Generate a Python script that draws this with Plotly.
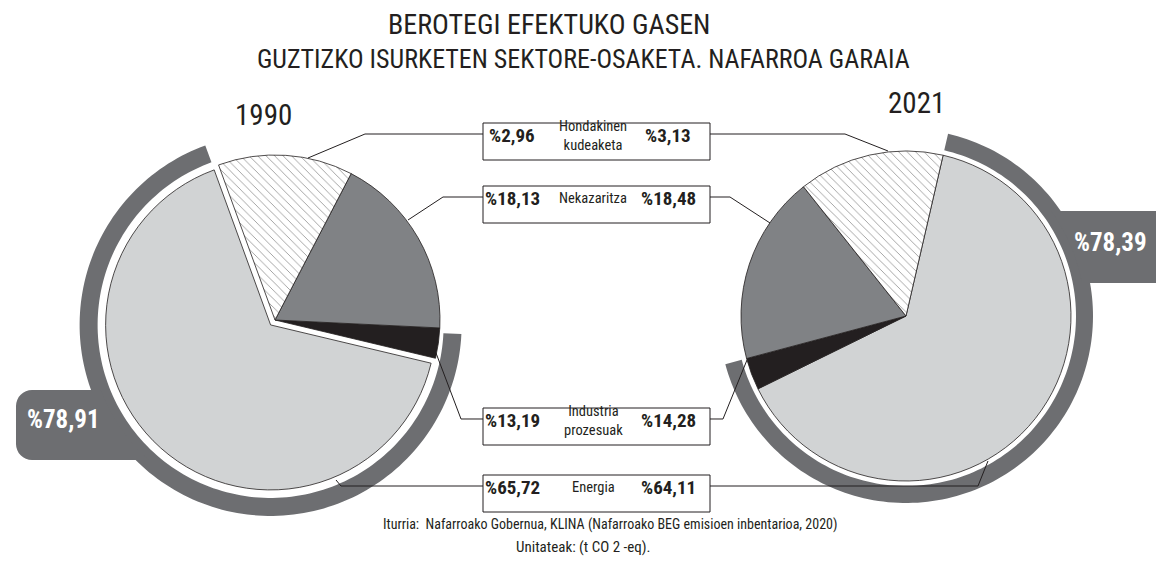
import math
import plotly.graph_objects as go

W, H = 1164, 561

# ---------------- data ----------------
sectors = ["Energia", "Hondakinen kudeaketa", "Nekazaritza", "Industria prozesuak"]
values_1990 = [65.72, 2.96, 18.13, 13.19]
values_2021 = [64.11, 3.13, 18.48, 14.28]
years = ["1990", "2021"]
arc_totals = [78.91, 78.39]
box_order = ["Hondakinen kudeaketa", "Nekazaritza", "Industria prozesuak", "Energia"]
box_texts = ["Hondakinen<br>kudeaketa", "Nekazaritza", "Industria<br>prozesuak", "Energia"]
title_lines = ["BEROTEGI EFEKTUKO GASEN",
               "GUZTIZKO ISURKETEN SEKTORE-OSAKETA. NAFARROA GARAIA"]
source_lines = ["Iturria:  Nafarroako Gobernua, KLINA (Nafarroako BEG emisioen inbentarioa, 2020)",
                "Unitateak: (t CO 2 -eq)."]

# ---------------- style ----------------
colors = ["#d1d3d4", "#231f20", "#808285", "#ffffff"]
patterns = ["", "", "", "\\"]
ARC = "#6d6e71"
INK = "#231f20"
FONT = "Liberation Sans Narrow, Roboto Condensed, DejaVu Sans Condensed, Roboto, sans-serif"


def fmt(v):
    return "%" + f"{v:.2f}".replace(".", ",")


def P(x, y):
    return x / W, 1 - y / H


def path(pts, close=True):
    s = "M " + " L ".join(f"{P(x, y)[0]:.5f},{P(x, y)[1]:.5f}" for x, y in pts)
    return s + (" Z" if close else "")


def pt(cx, cy, r, a):
    t = math.radians(a)
    return cx + r * math.sin(t), cy - r * math.cos(t)


def ring(cx, cy, r0, r1, a0, a1, n=160):
    outer = [pt(cx, cy, r1, a0 + (a1 - a0) * i / n) for i in range(n + 1)]
    inner = [pt(cx, cy, r0, a1 - (a1 - a0) * i / n) for i in range(n + 1)]
    return path(outer + inner)


def domain(cx, cy, r, pull):
    h = r * (1 + pull)
    return dict(x=[(cx - h) / W, (cx + h) / W], y=[1 - (cy + h) / H, 1 - (cy - h) / H])


# geometry
R = 165
L_C = (267, 312)
R_C = (898, 308)
PULL = 0.04
B_L = -20          # boundary Energia / Industria, left pie (deg clockwise from 12 o'clock)
ROT_R = 13

eL = values_1990[0] * 3.6
hL = values_1990[1] * 3.6
ROT_L = B_L + 360 - eL   # counterclockwise: first slice occupies [rot, rot + e]

pat = dict(shape=patterns, fgcolor="#6a6a6a", bgcolor="white", size=6, solidity=0.1)
fig = go.Figure()
fig.add_trace(go.Pie(labels=sectors, values=values_1990, sort=False, direction="counterclockwise",
                     rotation=ROT_L, pull=[PULL, 0, 0, 0], textinfo="none", hoverinfo="label+value",
                     marker=dict(colors=colors, line=dict(color=INK, width=0.8), pattern=pat),
                     domain=domain(*L_C, R, PULL), showlegend=False))
fig.add_trace(go.Pie(labels=sectors, values=values_2021, sort=False, direction="clockwise",
                     rotation=ROT_R, textinfo="none", hoverinfo="label+value",
                     marker=dict(colors=colors, line=dict(color=INK, width=0.8), pattern=pat),
                     domain=domain(*R_C, R, 0), showlegend=False))

shapes = []
# arcs covering Energia + Hondakinen
midL = ROT_L + eL / 2
lc = pt(L_C[0], L_C[1], PULL * R, midL)
shapes.append(dict(type="path", xref="paper", yref="paper", line=dict(width=0), fillcolor=ARC,
                   path=ring(lc[0], lc[1], 173, 191, ROT_L - hL, ROT_L + eL)))
eR = values_2021[0] * 3.6
hR = values_2021[1] * 3.6
shapes.append(dict(type="path", xref="paper", yref="paper", line=dict(width=0), fillcolor=ARC,
                   path=ring(R_C[0], R_C[1], 170, 187, ROT_R, ROT_R + eR + hR)))


def corner(cx, cy, rad, a0, a1, n=8):
    return [pt(cx, cy, rad, a0 + (a1 - a0) * i / n) for i in range(n + 1)]


# left total label box (right side follows the arc)
top, bot, left, rad, Rm = 382, 452, 8, 16, 182
xa = lambda y: lc[0] - math.sqrt(Rm ** 2 - (y - lc[1]) ** 2)
pts = [(left + rad, top)]
pts += [(xa(top + (bot - top) * i / 20), top + (bot - top) * i / 20) for i in range(21)]
pts += corner(left + rad, bot - rad, rad, 180, 270)
pts += corner(left + rad, top + rad, rad, 270, 360)
shapes.append(dict(type="path", xref="paper", yref="paper", line=dict(width=0), fillcolor=ARC, path=path(pts)))

# right total label box
top, bot, right, rad, Rm = 203, 275, 1163, 16, 179
xb = lambda y: R_C[0] + math.sqrt(Rm ** 2 - (y - R_C[1]) ** 2)
pts = [(right - rad, bot)]
pts += [(xb(bot - (bot - top) * i / 20), bot - (bot - top) * i / 20) for i in range(21)]
pts += corner(right - rad, top + rad, rad, 0, 90)
pts += corner(right - rad, bot - rad, rad, 90, 180)
shapes.append(dict(type="path", xref="paper", yref="paper", line=dict(width=0), fillcolor=ARC, path=path(pts)))

# leader lines and boxes
box_x0, box_x1, box_h = 475, 702, 37
box_tops = [115, 178, 400, 467]
leaders_left = [[(357, 126), (300, 150)], [(435, 189), (400, 212)],
                [(453, 411), (428, 345)], [(333, 478), (328, 472)]]
leaders_right = [[(837, 126), (880, 143)], [(722, 189), (762, 215)],
                 [(715, 411), (739, 352)], [(970, 478), (980, 453)]]
for i, t in enumerate(box_tops):
    yl = t + 11
    shapes.append(dict(type="path", xref="paper", yref="paper", line=dict(color=INK, width=1),
                       path=path([(box_x0, yl)] + leaders_left[i], close=False)))
    shapes.append(dict(type="path", xref="paper", yref="paper", line=dict(color=INK, width=1),
                       path=path([(box_x1, yl)] + leaders_right[i], close=False)))
    x0, y1 = P(box_x0, t)
    x1, y0 = P(box_x1, t + box_h)
    shapes.append(dict(type="rect", xref="paper", yref="paper", x0=x0, x1=x1, y0=y0, y1=y1,
                       line=dict(color=INK, width=1), fillcolor="white"))

ann = []
DX, DY = -7, -6


def text(x, y, s, size, color=INK, bold=False, family=FONT):
    xx, yy = P(x + DX, y + DY)
    ann.append(dict(x=xx, y=yy, xref="paper", yref="paper", text=s, showarrow=False,
                    xanchor="center", yanchor="middle",
                    font=dict(family=family, size=size, color=color, weight="bold" if bold else "normal")))


text(548, 23, title_lines[0], 28)
text(582, 57, title_lines[1], 26)
text(262, 113, years[0], 29)
text(915, 101, years[1], 29)
for i, name in enumerate(box_order):
    k = sectors.index(name)
    cy = box_tops[i] + box_h / 2
    text(511, cy, fmt(values_1990[k]), 19, bold=True)
    text(592, cy, box_texts[i], 14.5)
    text(667, cy, fmt(values_2021[k]), 19, bold=True)
text(62, 417, fmt(arc_totals[0]), 25, color="white", bold=True)
text(1109, 240, fmt(arc_totals[1]), 25, color="white", bold=True)
text(609, 522, source_lines[0], 14)
text(582, 545, source_lines[1], 15)

fig.update_layout(width=W, height=H, margin=dict(l=0, r=0, t=0, b=0),
                  paper_bgcolor="white", plot_bgcolor="white", showlegend=False,
                  shapes=shapes, annotations=ann)
fig.write_html("out.html")
